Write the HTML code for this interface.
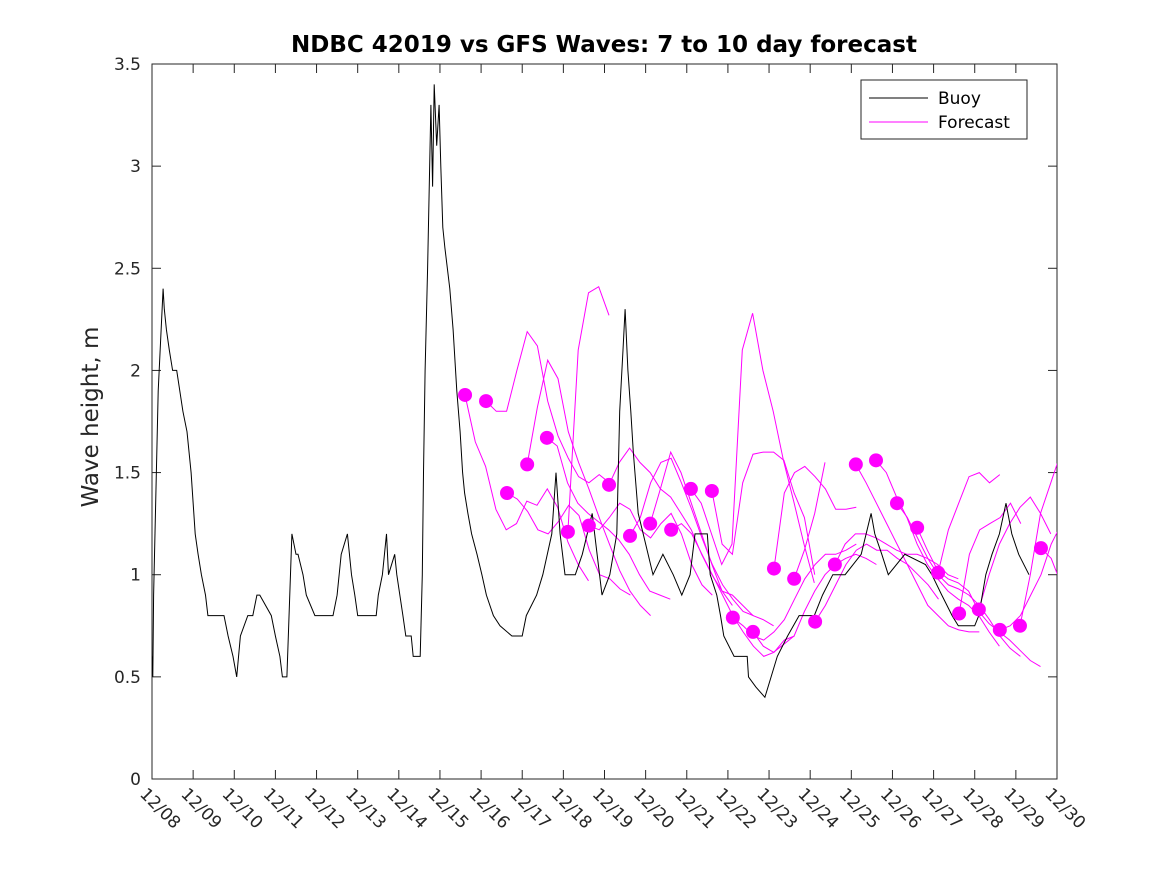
<!DOCTYPE html>
<html><head><meta charset="utf-8"><style>
body{margin:0;background:#fff;}
svg{display:block;font-family:"DejaVu Sans","Liberation Sans",sans-serif;}
</style></head><body>
<svg id="chart" width="1167" height="875" viewBox="0 0 1167 875" xmlns="http://www.w3.org/2000/svg">
<rect x="0" y="0" width="1167" height="875" fill="#fff"/>
<text x="604" y="52" text-anchor="middle" font-size="23" font-weight="bold" fill="#000">NDBC 42019 vs GFS Waves: 7 to 10 day forecast</text>
<text transform="translate(98,417) rotate(-90)" text-anchor="middle" font-size="23" fill="#262626">Wave height, m</text>
<g id="plot"></g>
<g>
<rect x="861" y="80" width="166" height="59" fill="#fff" stroke="#262626" stroke-width="1"/>
<line x1="869" y1="98" x2="928" y2="98" stroke="#000" stroke-width="1"/>
<text x="938" y="104" font-size="17" fill="#000">Buoy</text>
<line x1="869" y1="122" x2="928" y2="122" stroke="#ff00ff" stroke-width="1"/>
<text x="938" y="128" font-size="17" fill="#000">Forecast</text>
</g>
</svg>
<script>
const xTickLabels=["12/08","12/09","12/10","12/11","12/12","12/13","12/14","12/15","12/16","12/17","12/18","12/19","12/20","12/21","12/22","12/23","12/24","12/25","12/26","12/27","12/28","12/29","12/30"];
const yTicks=[0,0.5,1,1.5,2,2.5,3,3.5];
const buoyDays=[0,0.02,0.04,0.15,0.27,0.3,0.35,0.42,0.5,0.6,0.75,0.85,0.95,1.05,1.12,1.2,1.3,1.36,1.75,1.85,1.97,2.06,2.15,2.33,2.45,2.55,2.62,2.9,3.0,3.11,3.17,3.28,3.4,3.5,3.55,3.67,3.75,3.96,4.0,4.4,4.5,4.6,4.75,4.85,4.93,5.0,5.45,5.5,5.6,5.7,5.75,5.9,5.95,6.1,6.17,6.3,6.35,6.52,6.57,6.6,6.64,6.7,6.78,6.82,6.86,6.92,6.98,7.02,7.07,7.12,7.24,7.32,7.41,7.49,7.55,7.6,7.68,7.77,7.9,8.02,8.13,8.3,8.46,8.75,9.0,9.1,9.35,9.5,9.72,9.82,9.92,10.04,10.29,10.46,10.7,10.82,10.94,11.13,11.3,11.37,11.45,11.5,11.57,11.64,11.7,11.82,11.94,12.06,12.18,12.42,12.67,12.88,13.08,13.2,13.5,13.57,13.73,13.82,13.9,14.15,14.47,14.5,14.68,14.9,15.05,15.2,15.45,15.73,16.1,16.3,16.55,16.85,17.24,17.48,17.57,17.74,17.9,18.3,18.8,18.96,19.2,19.45,19.6,20.0,20.1,20.27,20.42,20.6,20.76,20.9,21.07,21.32];
const buoyVals=[0.6,0.5,0.9,1.9,2.4,2.3,2.2,2.1,2.0,2.0,1.8,1.7,1.5,1.2,1.1,1.0,0.9,0.8,0.8,0.7,0.6,0.5,0.7,0.8,0.8,0.9,0.9,0.8,0.7,0.6,0.5,0.5,1.2,1.1,1.1,1.0,0.9,0.8,0.8,0.8,0.9,1.1,1.2,1.0,0.9,0.8,0.8,0.9,1.0,1.2,1.0,1.1,1.0,0.8,0.7,0.7,0.6,0.6,1.0,1.5,2.0,2.5,3.3,2.9,3.4,3.1,3.3,3.0,2.7,2.6,2.4,2.2,1.9,1.7,1.5,1.4,1.3,1.2,1.1,1.0,0.9,0.8,0.75,0.7,0.7,0.8,0.9,1.0,1.2,1.5,1.2,1.0,1.0,1.1,1.3,1.1,0.9,1.0,1.2,1.8,2.1,2.3,2.0,1.8,1.6,1.3,1.2,1.1,1.0,1.1,1.0,0.9,1.0,1.2,1.2,1.0,0.9,0.8,0.7,0.6,0.6,0.5,0.45,0.4,0.5,0.6,0.7,0.8,0.8,0.9,1.0,1.0,1.1,1.3,1.2,1.1,1.0,1.1,1.05,1.0,0.9,0.8,0.75,0.75,0.8,1.0,1.1,1.2,1.35,1.2,1.1,1.0];
const fcStart=[7.61,8.12,8.63,9.12,9.60,10.11,10.62,11.11,11.62,12.11,12.62,13.10,13.61,14.12,14.61,15.12,15.61,16.12,16.60,17.11,17.60,18.11,18.60,19.11,19.62,20.10,20.61,21.10,21.61];
const fc1=[1.88,1.65,1.53,1.32,1.22,1.25,1.36,1.34,1.42,1.33,1.16,1.05,0.97];
const fc2=[1.85,1.80,1.80,2.00,2.19,2.12,1.85,1.68,1.57,1.48,1.45,1.49,1.45];
const fc3=[1.40,1.37,1.31,1.22,1.20,1.26,1.34,1.29,1.12,1.00,0.98,0.93,0.90];
const fc4=[1.54,1.82,2.05,1.96,1.70,1.55,1.42,1.28,1.15,1.02,0.92,0.85,0.80];
const fc5=[1.67,1.63,1.45,1.35,1.30,1.26,1.22,1.17,1.10,1.00,0.92,0.90,0.88];
const fc6=[1.21,2.10,2.38,2.41,2.27];
const fc7=[1.24,1.22,1.28,1.35,1.32,1.22,1.18,1.25,1.30,1.20,1.05,0.95,0.90];
const fc8=[1.44,1.55,1.62,1.55,1.50,1.42,1.38,1.30,1.22,1.10,1.00,0.92,0.85];
const fc9=[1.19,1.28,1.45,1.55,1.57,1.45,1.32,1.18,1.05,0.95,0.88,0.82,0.80];
const fc10=[1.25,1.42,1.60,1.50,1.35,1.20,1.05,0.92,0.90,0.85,0.80,0.78,0.75];
const fc11=[1.22,1.25,1.20,1.10,1.00,0.90,0.80,0.72,0.65,0.60,0.62,0.68,0.70];
const fc12=[1.42,1.35,1.20,1.05,1.15,2.10,2.28,2.00,1.80,1.56,1.36,1.15,0.96];
const fc13=[1.41,1.15,1.10,1.45,1.59,1.60,1.60,1.56,1.40,1.28,1.00];
const fc14=[0.79,0.75,0.70,0.68,0.72,0.78,0.88,0.98,1.05,1.10,1.10,1.12,1.15];
const fc15=[0.72,0.65,0.62,0.66,0.70,0.82,0.92,1.00,1.05,1.08,1.10,1.08,1.05];
const fc16=[1.03,1.40,1.50,1.53,1.48,1.42,1.32,1.32,1.33];
const fc17=[0.98,1.12,1.30,1.55];
const fc18=[0.77,0.85,0.95,1.05,1.12,1.15,1.12,1.12,1.08,1.05,1.00,0.95,0.88];
const fc19=[1.05,1.15,1.20,1.20,1.18,1.15,1.12,1.10,1.10,1.08,1.05,1.00,0.98];
const fc20=[1.54,1.45,1.35,1.25,1.15,1.05,0.95,0.85,0.80,0.75,0.73,0.72,0.72];
const fc21=[1.56,1.50,1.38,1.28,1.15,1.05,0.98,0.92,0.88,0.85,0.80,0.72,0.65];
const fc22=[1.35,1.28,1.18,1.08,1.00,0.95,0.93,0.90,0.85,0.78,0.70,0.64,0.60];
const fc23=[1.23,1.12,1.02,0.98,0.96,0.92,0.82,0.76,0.72,0.68,0.63,0.58,0.55];
const fc24=[1.01,1.22,1.35,1.48,1.50,1.45,1.49];
const fc25=[0.81,1.10,1.22,1.25,1.28,1.35,1.25];
const fc26=[0.83,1.00,1.15,1.25,1.33,1.38,1.30,1.20];
const fc27=[0.73,0.75,0.80,0.90,1.00,1.15,1.25];
const fc28=[0.75,1.00,1.30,1.45,1.60];
const fc29=[1.13,1.08,0.95];
const fcSeries=[fc1,fc2,fc3,fc4,fc5,fc6,fc7,fc8,fc9,fc10,fc11,fc12,fc13,fc14,fc15,fc16,fc17,fc18,fc19,fc20,fc21,fc22,fc23,fc24,fc25,fc26,fc27,fc28,fc29];
const fcStep=0.25;

const NS="http://www.w3.org/2000/svg";
const X0=152,X1=1057,Y0=779,Y1=64,DAYS=22,YMAX=3.5;
function xs(d){return X0+(d/DAYS)*(X1-X0);}
function ys(v){return Y0-(v/YMAX)*(Y0-Y1);}
const plot=document.getElementById('plot');
function mk(tag,attrs,parent){const e=document.createElementNS(NS,tag);for(const k in attrs)e.setAttribute(k,attrs[k]);(parent||plot).appendChild(e);return e;}

const cp=mk('clipPath',{id:'clip'});mk('rect',{x:X0,y:Y1,width:X1-X0,height:Y0-Y1},cp);

const box=mk('rect',{x:X0,y:Y1,width:X1-X0,height:Y0-Y1,fill:'none',stroke:'#262626','stroke-width':1});



yTicks.forEach(v=>{
  const y=ys(v);
  mk('line',{x1:X0,y1:y,x2:X0+9,y2:y,stroke:'#262626'});
  mk('line',{x1:X1,y1:y,x2:X1-9,y2:y,stroke:'#262626'});
  const t=mk('text',{x:X0-11,y:y+6,'text-anchor':'end','font-size':17,fill:'#262626'});
  t.textContent=String(v);
  
  
});
xTickLabels.forEach((lab,i)=>{
  const x=xs(i);
  mk('line',{x1:x,y1:Y0,x2:x,y2:Y0-9,stroke:'#262626'});
  mk('line',{x1:x,y1:Y1,x2:x,y2:Y1+9,stroke:'#262626'});
  const t=mk('text',{x:0,y:0,'font-size':17,fill:'#262626',transform:`translate(${x-13},${Y0+16}) rotate(45)`});
  t.textContent=lab;
  
  
});

const g=mk('g',{'clip-path':'url(#clip)'});
fcSeries.forEach((vals,i)=>{
  const pts=vals.map((v,j)=>xs(fcStart[i]+j*fcStep).toFixed(1)+','+ys(v).toFixed(1)).join(' ');
  const pl=mk('polyline',{points:pts,fill:'none',stroke:'#ff00ff','stroke-width':1},g);
  
  
});
const bp=buoyDays.map((d,i)=>xs(d).toFixed(1)+','+ys(buoyVals[i]).toFixed(1)).join(' ');
const bl=mk('polyline',{points:bp,fill:'none',stroke:'#000','stroke-width':1},g);


fcSeries.forEach((vals,i)=>{
  const c=mk('circle',{cx:xs(fcStart[i]),cy:ys(vals[0]),r:7,fill:'#ff00ff'},g);
  
  
});
</script>
</body></html>
